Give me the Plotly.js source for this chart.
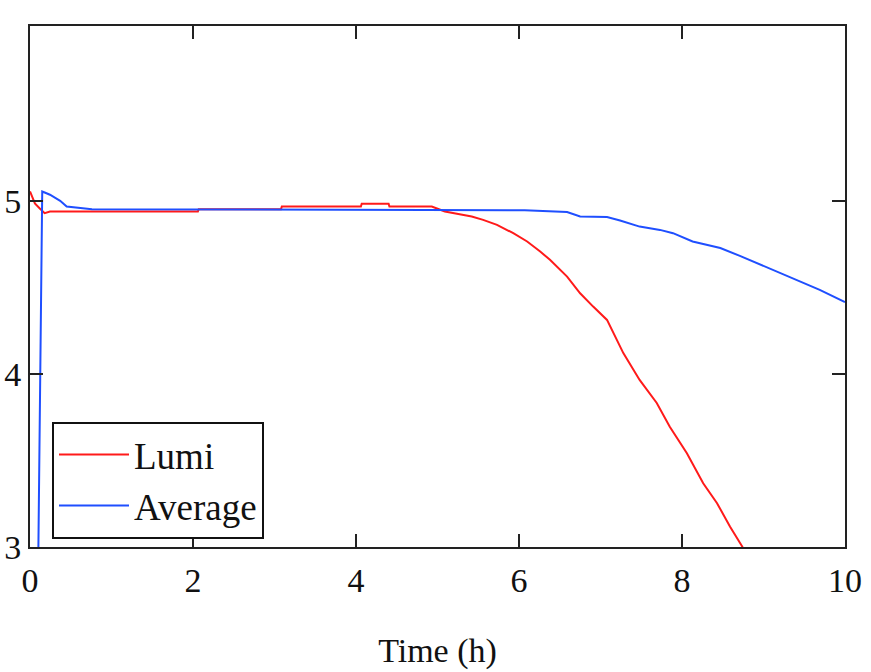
<!DOCTYPE html>
<html>
<head>
<meta charset="utf-8">
<script src="https://cdn.plot.ly/plotly-3.0.1.min.js"></script>
<style>html,body{margin:0;padding:0;background:#fff;}#chart{width:871px;height:672px;}</style>
</head>
<body>
<div id="chart"></div>
<script>
const lumiX = [0, 0.06, 0.12, 0.18, 0.245, 2.06, 2.07, 3.08, 3.09, 4.06, 4.07, 4.40, 4.41, 4.93, 5.09, 5.25, 5.42, 5.56, 5.73, 5.93, 6.10, 6.26, 6.38, 6.59, 6.75, 6.91, 7.08, 7.28, 7.48, 7.69, 7.85, 8.06, 8.26, 8.43, 8.59, 8.74, 8.9];
const lumiY = [5.054, 4.985, 4.956, 4.929, 4.938, 4.938, 4.952, 4.952, 4.967, 4.967, 4.983, 4.983, 4.967, 4.967, 4.938, 4.925, 4.909, 4.890, 4.861, 4.813, 4.765, 4.707, 4.659, 4.562, 4.466, 4.389, 4.312, 4.120, 3.965, 3.832, 3.695, 3.542, 3.368, 3.253, 3.117, 3.002, 2.82];
const avgX = [0.08, 0.15, 0.18, 0.245, 0.31, 0.37, 0.45, 0.76, 6.07, 6.59, 6.75, 7.08, 7.24, 7.48, 7.73, 7.89, 8.13, 8.47, 8.71, 9.04, 9.36, 9.69, 10];
const avgY = [2.0, 5.054, 5.048, 5.035, 5.017, 5.0, 4.967, 4.952, 4.945, 4.935, 4.909, 4.906, 4.886, 4.851, 4.832, 4.813, 4.765, 4.727, 4.682, 4.617, 4.553, 4.486, 4.415];
const xTicks = [0, 2, 4, 6, 8, 10];
const yTicks = [3, 4, 5];
const seriesNames = ["Lumi", "Average"];

const FONT = "'Liberation Serif', 'Times New Roman', serif";
const traces = [
  {x: lumiX, y: lumiY, mode: 'lines', name: seriesNames[0], line: {color: '#ff1a1a', width: 2}},
  {x: avgX, y: avgY, mode: 'lines', name: seriesNames[1], line: {color: '#1f4fff', width: 2}}
];
const axisCommon = {
  showline: true, linecolor: '#222', linewidth: 2, mirror: 'allticks',
  ticks: 'inside', ticklen: 13, tickwidth: 2, tickcolor: '#222',
  showgrid: false, zeroline: false, fixedrange: true,
  tickfont: {family: FONT, size: 34, color: '#111'}
};
const layout = {
  width: 871, height: 672,
  margin: {l: 30, r: 26, t: 26, b: 125},
  paper_bgcolor: '#fff', plot_bgcolor: '#fff',
  font: {family: FONT, color: '#111'},
  xaxis: Object.assign({}, axisCommon, {
    range: [0, 10], tickmode: 'array', tickvals: xTicks, ticktext: xTicks.map(String),
    ticklabelstandoff: 2,
    title: {text: 'Time (h)', font: {family: FONT, size: 34, color: '#111'}, standoff: 40}
  }),
  yaxis: Object.assign({}, axisCommon, {
    range: [3, 6.01], tickmode: 'array', tickvals: yTicks, ticktext: yTicks.map(String),
    ticklabelstandoff: 0
  }),
  showlegend: true,
  legend: {
    x: 0.027, y: 0.24, xanchor: 'left', yanchor: 'top',
    bordercolor: '#111', borderwidth: 2, bgcolor: '#fff',
    font: {family: FONT, size: 37, color: '#111'},
    itemwidth: 70,
    tracegroupgap: 0
  }
};
Plotly.newPlot('chart', traces, layout, {displayModeBar: false, staticPlot: true});
</script>
</body>
</html>
